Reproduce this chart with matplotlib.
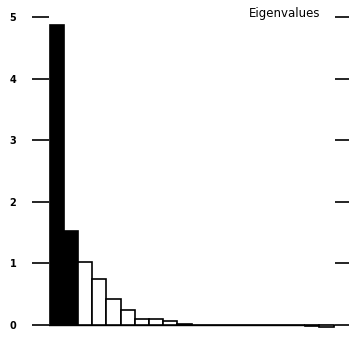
import matplotlib
matplotlib.use("Agg")
import matplotlib.pyplot as plt
import numpy as np

# eigenvalues
eigenvalues = [4.87, 1.53, 1.03, 0.74, 0.42, 0.25, 0.09, 0.09, 0.06, 0.02,
               0.005, 0.003, 0.002, 0.001, 0.0, 0.0, 0.0, 0.0, -0.02, -0.04]
n_kept = 2
yticks = [0, 1, 2, 3, 4, 5]

W, H = 349, 337
fig = plt.figure(figsize=(W / 100, H / 100), dpi=100)

# pixel geometry: value 0 at y=325, value 5 at y=17
px_per_unit = (325 - 17) / 5
ymin, ymax = -0.15, 5.25
bot_px = 325 + (-ymin) * px_per_unit
top_px = 325 - ymax * px_per_unit
left_px, right_px = 49, 335
ax = fig.add_axes([left_px / W, (H - bot_px) / H,
                   (right_px - left_px) / W, (bot_px - top_px) / H])

x = np.arange(1, len(eigenvalues) + 1)
colors = ['black' if i < n_kept else 'white' for i in range(len(eigenvalues))]
ax.bar(x, eigenvalues, width=1.0, color=colors, edgecolor='black', linewidth=1.2)
ax.axhline(0, color='black', linewidth=1.0, zorder=0)

ax.set_xlim(0.45, len(eigenvalues) + 0.6)
ax.set_ylim(ymin, ymax)
for s in ax.spines.values():
    s.set_visible(False)
ax.set_xticks([])
ax.set_yticks(yticks)
ax.tick_params(axis='y', which='both', left=True, right=True, direction='out',
               labelleft=True, width=1.2, labelsize=7, pad=11)
ax.yaxis.set_tick_params(which='major', length=12.5)
for t in ax.yaxis.get_major_ticks():
    t.tick2line.set_markersize(10)
for lab in ax.get_yticklabels():
    lab.set_fontweight('bold')

fig.text(320 / W, 1 - 13 / H, "Eigenvalues", ha='right', va='center', fontsize=8.5)

plt.savefig('out.png', dpi=100)
